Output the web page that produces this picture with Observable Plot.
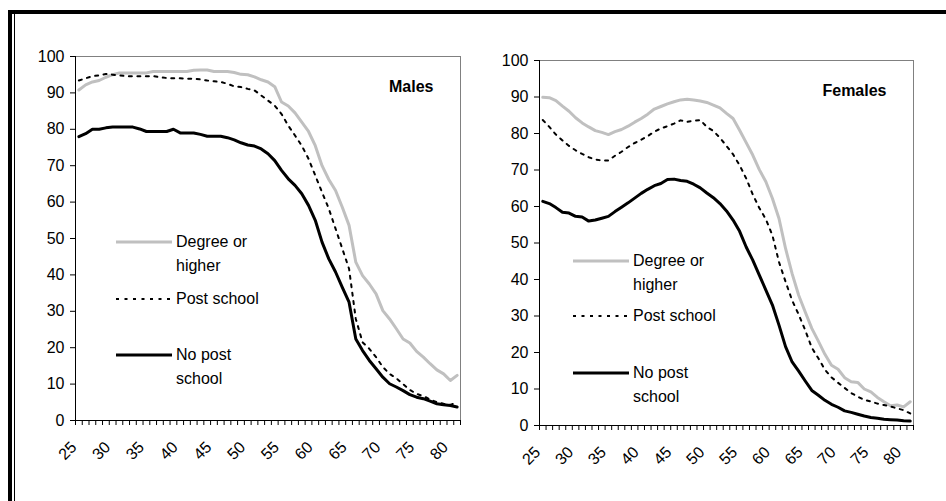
<!DOCTYPE html>
<html><head><meta charset="utf-8">
<script src="https://cdn.jsdelivr.net/npm/d3@7"></script>
<script src="https://cdn.jsdelivr.net/npm/@observablehq/plot@0.6"></script>
<style>
html,body{margin:0;padding:0;background:#fff;}
#wrap{position:relative;width:946px;height:501px;overflow:hidden;font-family:"Liberation Sans",Arial,sans-serif;}
.bar{position:absolute;background:#000;}
.lg{position:absolute;font-size:16px;line-height:24px;color:#000;white-space:nowrap;}
</style></head><body><div id="wrap"></div>
<script>
const ages = [25,26,27,28,29,30,31,32,33,34,35,36,37,38,39,40,41,42,43,44,45,46,47,48,49,50,51,52,53,54,55,56,57,58,59,60,61,62,63,64,65,66,67,68,69,70,71,72,73,74,75,76,77,78,79,80,81];
const xLabels = [25,30,35,40,45,50,55,60,65,70,75,80];
const yTicks = [0,10,20,30,40,50,60,70,80,90,100];
const seriesNames = ["Degree or higher","Post school","No post school"];

const malesDegree = [90.8,92.2,93,93.4,94.3,95,95.5,95.5,95.5,95.5, 95.5,95.9,95.9,95.9,95.9,95.9,95.9,96.2,96.3,96.3, 95.9,95.9,95.9,95.6,95.1,95,94.4,93.6,93,91.7, 87.5,86.4,84.5,82,79.4,75.5,70,66.2,63.2,58.6, 53.6,43.5,39.8,37.5,34.8,30.2,27.9,25.2,22.4,21.3, 19,17.4,15.6,13.9,12.8,11,12.4];
const malesPost = [93.4,94,94.6,94.8,95.2,95,94.8,94.6,94.6,94.6, 94.6,94.6,94.3,94.1,94,94,93.9,93.9,93.7,93.4, 93.2,93,92.5,91.8,91.6,91.1,90.7,89.3,87.9,86.5, 84.2,81,78.3,75.5,71.9,67.3,62.7,58.2,52.7,47.2, 41.7,27.9,21.5,19.7,17.4,14.7,12.8,11.6,10,8.4, 7.3,6.7,5.8,5,4.6,4.3,5];
const malesNone = [78,78.8,80,80,80.4,80.6,80.6,80.6,80.6,80.1, 79.4,79.4,79.4,79.4,80,79,79,79,78.6,78.1, 78.1,78.1,77.7,77.1,76.3,75.7,75.4,74.6,73.3,71.4, 68.7,66.4,64.6,62.3,59.1,55,49,44.4,40.8,36.6, 32.5,22.4,19.2,16.5,14.2,11.9,10.1,9.2,8.2,7.1, 6.4,6,5.3,4.6,4.3,4.1,3.7];

const femalesDegree = [89.9,89.8,89,87.5,86.1,84.3,82.9,81.8,80.8,80.3, 79.7,80.5,81.1,82,83.1,84.1,85.3,86.7,87.4,88.1, 88.7,89.2,89.4,89.2,88.9,88.5,87.8,87,85.5,84.1, 80.9,77.5,74.1,70.1,66.8,62.2,56.7,48.5,41.6,35.7, 31.1,26.6,23.1,19.5,16.5,15.4,13.1,12,11.8,10, 9.2,7.7,6.5,5.4,5.6,5.1,6.5];
const femalesPost = [83.7,81.8,79.7,78.1,76.6,75.4,74.4,73.5,72.9,72.6, 72.6,73.9,75,76.3,77.4,78.3,79.3,80.5,81.4,82, 82.7,83.6,83.2,83.5,83.7,81.8,80.7,78.8,76.6,74.3, 71.3,67.7,63.3,59.6,56.5,52.1,44.8,39.4,34.3,30.4, 26.1,21.3,18.4,15.3,13.2,11.7,10.3,8.9,7.9,7, 6.6,6,5.6,5.2,4.7,4.2,3.3];
const femalesNone = [61.4,60.8,59.7,58.4,58.2,57.3,57.1,56,56.3,56.8, 57.3,58.6,59.8,61,62.3,63.6,64.7,65.7,66.3,67.4, 67.5,67.1,66.9,66.1,65.1,63.7,62.4,60.8,58.8,56.3, 53.2,48.9,45.3,41.2,37.1,33,27.5,21.6,17.4,14.9, 12.2,9.6,8.3,6.9,5.8,5,4,3.6,3.1,2.6, 2.2,2,1.7,1.6,1.5,1.3,1.2];

const GRAY = "#c0c0c0";
const DOTS = "3,5.5";
const FONT = "Liberation Sans, Arial, sans-serif";
const xTickPos = ages.map(a => a - 0.5).concat([ages[ages.length - 1] + 0.5]);

function panel({degree, post, none, title, mL, mR, mT, mB}) {
  const mk = vals => ages.map((a, i) => ({age: a, value: vals[i]}));
  return Plot.plot({
    width: 473, height: 501,
    marginLeft: mL, marginRight: mR, marginTop: mT, marginBottom: mB,
    style: {fontFamily: FONT, fontSize: "16px", color: "#000", background: "transparent", overflow: "visible"},
    x: {domain: [ages[0] - 0.5, ages[ages.length - 1] + 0.5], label: null},
    y: {domain: [0, 100], label: null},
    marks: [
      Plot.frame({stroke: "#808080", strokeWidth: 1}),
      Plot.line(mk(degree), {x: "age", y: "value", stroke: GRAY, strokeWidth: 3, strokeLinejoin: "round"}),
      Plot.line(mk(post), {x: "age", y: "value", stroke: "#000", strokeWidth: 2, strokeDasharray: DOTS}),
      Plot.line(mk(none), {x: "age", y: "value", stroke: "#000", strokeWidth: 3, strokeLinejoin: "round"}),
      Plot.ruleX([ages[0] - 0.5], {stroke: "#000"}),
      Plot.ruleY([0], {stroke: "#000"}),
      Plot.axisY(yTicks, {tickSize: 5, tickPadding: 6, fontSize: 16, label: null}),
      Plot.axisX(xTickPos, {tickSize: 5, tickFormat: () => "", label: null}),
      Plot.axisX(xLabels, {tickSize: 0, tickPadding: 24, tickRotate: -45, dx: -5, fontSize: 16, label: null}),
      Plot.text([title], {frameAnchor: "top-right", dx: -27, dy: 30, fontWeight: "bold", fontSize: 16, textAnchor: "end", lineAnchor: "middle"})
    ]
  });
}

const wrap = document.getElementById("wrap");

const left = panel({degree: malesDegree, post: malesPost, none: malesNone, title: "Males", mL: 75, mR: 13, mT: 56, mB: 81});
left.style.position = "absolute"; left.style.left = "0px"; left.style.top = "0px";
wrap.appendChild(left);

const right = panel({degree: femalesDegree, post: femalesPost, none: femalesNone, title: "Females", mL: 66, mR: 33, mT: 60, mB: 76});
right.style.position = "absolute"; right.style.left = "473px"; right.style.top = "0px";
wrap.appendChild(right);

// outer frame
function bar(l, t, w, h) {
  const d = document.createElement("div");
  d.className = "bar";
  Object.assign(d.style, {left: l + "px", top: t + "px", width: w + "px", height: h + "px"});
  wrap.appendChild(d);
}
bar(8, 10, 938, 4);
bar(8, 10, 4, 491);
bar(14, 10, 1, 491);

// legends
const styles = [
  {stroke: GRAY, width: 3, dash: null},
  {stroke: "#000", width: 2, dash: DOTS},
  {stroke: "#000", width: 3, dash: null}
];
const labelLines = [["Degree or", "higher"], ["Post school"], ["No post", "school"]];
function legend(x0, x1, tx, ys) {
  ys.forEach((y, i) => {
    const s = styles[i];
    const svg = d3.create("svg").attr("width", x1 - x0).attr("height", 8)
      .style("position", "absolute").style("left", x0 + "px").style("top", (y - 4) + "px");
    svg.append("line").attr("x1", 0).attr("x2", x1 - x0).attr("y1", 4).attr("y2", 4)
      .attr("stroke", s.stroke).attr("stroke-width", s.width)
      .attr("stroke-dasharray", s.dash);
    wrap.appendChild(svg.node());
    const t = document.createElement("div");
    t.className = "lg";
    t.style.left = tx + "px";
    t.style.top = (y - 12) + "px";
    t.innerHTML = labelLines[i].join("<br>");
    wrap.appendChild(t);
  });
}
legend(116, 172, 176, [242, 299, 355]);
legend(573, 629, 633, [261, 316, 373]);
</script></body></html>
